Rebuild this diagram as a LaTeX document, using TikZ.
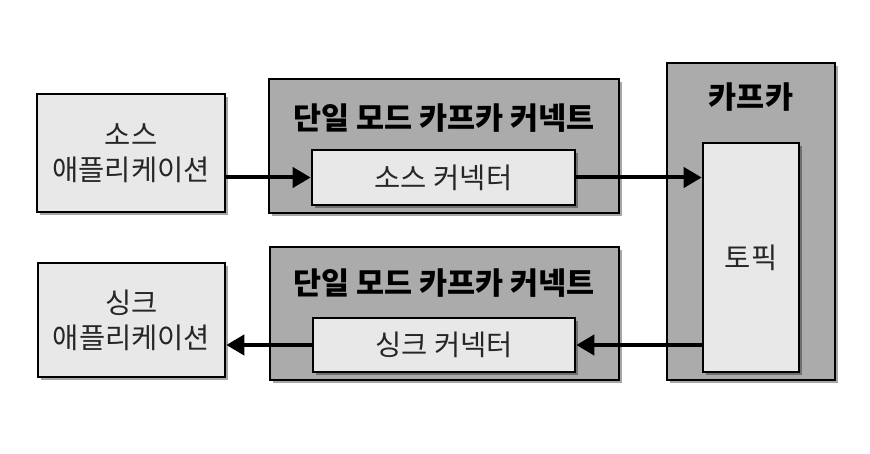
\documentclass[tikz,border=0pt]{standalone}
\usepackage{fontspec}
\setmainfont{Noto Sans CJK KR}
\usetikzlibrary{arrows.meta,shadows}
\definecolor{lightbox}{HTML}{E8E8E8}
\definecolor{darkbox}{HTML}{ABABAB}
\definecolor{txt}{HTML}{262626}
\tikzset{
  base/.style={draw=black, line width=2.6pt, rectangle, inner sep=0pt,
    drop shadow={shadow xshift=3pt, shadow yshift=-3pt, opacity=0.35, fill=black}},
  lightbox/.style={base, fill=lightbox},
  darkbox/.style={base, fill=darkbox},
  lbl/.style={font=\fontsize{28.5}{35}\selectfont, text=txt, align=center},
  ttl/.style={font=\fontsize{30.5}{34}\selectfont\bfseries, text=black},
  conn/.style={line width=4pt, -{Triangle[length=18pt,width=20pt]}}
}
\begin{document}
\begin{tikzpicture}[x=1pt,y=-1pt]
\useasboundingbox (0,0) rectangle (870,454);
% outer boxes
\node[darkbox, minimum width=350pt, minimum height=134pt] (c1) at (444,146) {};
\node[darkbox, minimum width=349pt, minimum height=133pt] (c2) at (444.5,313.5) {};
\node[darkbox, minimum width=168pt, minimum height=317pt] (kafka) at (751,221.5) {};
% inner boxes
\node[lightbox, minimum width=263pt, minimum height=55pt] (in1) at (443.5,177.5) {};
\node[lightbox, minimum width=262pt, minimum height=54pt] (in2) at (444,345) {};
\node[lightbox, minimum width=96pt, minimum height=229pt] (topic) at (751,257.5) {};
\node[lightbox, minimum width=188pt, minimum height=118pt] (src) at (131,153) {};
\node[lightbox, minimum width=187pt, minimum height=114pt] (sink) at (131.5,320) {};
% texts
\node[ttl] (t1) at (444,118) {단일 모드 카프카 커넥트};
\node[ttl] (t2) at (444,283) {단일 모드 카프카 커넥트};
\node[ttl] (tk) at (751,97) {카프카};
\node[lbl] (l1) at (in1) {소스 커넥터};
\node[lbl] (l2) at (in2) {싱크 커넥터};
\node[lbl] (lt) at (topic) {토픽};
\node[lbl] (ls) at (src) {소스\\애플리케이션};
\node[lbl] (lk) at (sink) {싱크\\애플리케이션};
% connectors
\draw[conn] (src.east |- in1) -- (in1.west);
\draw[conn] (in1.east) -- (topic.west |- in1);
\draw[conn] (topic.west |- in2) -- (in2.east);
\draw[conn] (in2.west) -- (sink.east |- in2);
\end{tikzpicture}
\end{document}
